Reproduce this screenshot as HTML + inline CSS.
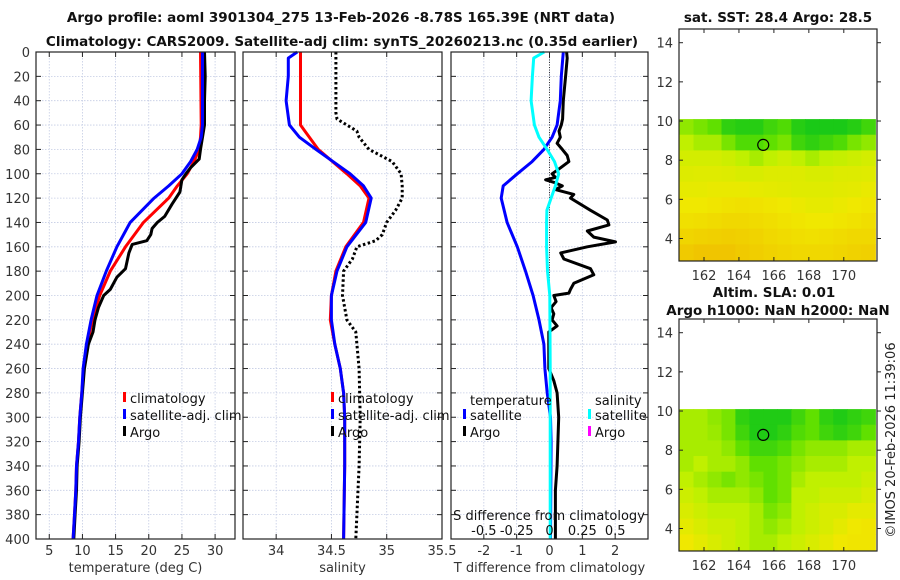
<!DOCTYPE html>
<html><head><meta charset="utf-8"><style>
html,body{margin:0;padding:0;background:#fff;}
svg{display:block;font-family:"DejaVu Sans","Liberation Sans",sans-serif;}
</style></head><body>
<svg id="chart" width="900" height="580" viewBox="0 0 900 580" xmlns="http://www.w3.org/2000/svg">
<g id="titles">
<text x="341" y="22" text-anchor="middle" font-size="13.5" font-weight="bold" fill="#111">Argo profile: aoml 3901304_275 13-Feb-2026 -8.78S 165.39E (NRT data)</text>
<text x="342" y="46" text-anchor="middle" font-size="13.5" font-weight="bold" fill="#111">Climatology: CARS2009. Satellite-adj clim: synTS_20260213.nc (0.35d earlier)</text>
<text x="778" y="22" text-anchor="middle" font-size="13.5" font-weight="bold" fill="#111">sat. SST: 28.4 Argo: 28.5</text>
<text x="774" y="297" text-anchor="middle" font-size="13.5" font-weight="bold" fill="#111">Altim. SLA: 0.01</text>
<text x="778" y="315" text-anchor="middle" font-size="13.5" font-weight="bold" fill="#111">Argo h1000: NaN h2000: NaN</text>
<text transform="translate(895,440) rotate(-90)" text-anchor="middle" font-size="13" fill="#222">©IMOS 20-Feb-2026 11:39:06</text>
</g>
</svg>
<script>
// ---------- data ----------
const depthTicks = [0,20,40,60,80,100,120,140,160,180,200,220,240,260,280,300,320,340,360,380,400];
const tempTicks = [5,10,15,20,25,30];
const salTicks = [34,34.5,35,35.5];
const salTickLabels = ['34','34.5','35','35.5'];
const tdiffTicks = [-2,-1,0,1,2];
const sdiffTickLabels = ['-0.5','-0.25','0','0.25','0.5'];
const sdiffTickValues = [-0.5,-0.25,0,0.25,0.5];

const tClimDepth = [0,60,70,80,90,100,110,120,140,160,180,200,220,240,260,280,300,320,340,360,380,400];
const tClim =      [27.8,27.9,27.8,27.6,26.8,25.8,24.3,23.0,19.2,16.5,14.2,12.6,11.5,10.7,10.2,9.9,9.6,9.4,9.1,9.0,8.8,8.6];
const tSatDepth = [0,60,70,80,90,100,110,120,140,160,180,200,220,240,260,280,300,320,340,360,380,400];
const tSat =      [28.1,28.1,27.9,27.3,26.3,25.0,23.0,20.8,17.2,15.2,13.6,12.2,11.3,10.6,10.1,9.9,9.6,9.4,9.1,9.0,8.8,8.6];
const tArgoDepth = [0,20,40,60,80,88,95,100,105,115,125,135,140,145,150,155,158,165,178,185,195,200,210,220,230,240,260,280,300,320,340,360,380,400];
const tArgo =      [28.4,28.5,28.4,28.4,27.8,27.6,26.3,25.6,25.0,24.7,23.5,22.4,21.3,20.5,20.3,19.7,17.5,17.0,16.5,15.2,14.2,13.2,12.4,11.9,11.6,10.9,10.3,10.0,9.7,9.5,9.2,9.1,8.9,8.7];

const sClimDepth = [0,60,65,80,100,110,120,140,160,180,200,220,240,260,280,300,340,400];
const sClim =      [34.22,34.22,34.26,34.38,34.64,34.76,34.84,34.79,34.63,34.54,34.5,34.49,34.53,34.58,34.61,34.62,34.62,34.61];
const sSatDepth = [0,5,20,40,60,70,80,100,110,120,140,160,180,200,220,240,260,280,300,340,400];
const sSat =      [34.19,34.11,34.11,34.09,34.12,34.21,34.36,34.67,34.79,34.86,34.81,34.64,34.55,34.5,34.5,34.53,34.58,34.61,34.62,34.62,34.61];
const sArgoDepth = [0,50,55,65,70,80,90,100,110,120,130,140,150,155,160,170,180,200,220,230,240,260,300,340,400];
const sArgo =      [34.54,34.54,34.55,34.73,34.75,34.84,35.05,35.13,35.14,35.14,35.08,35.0,34.96,34.9,34.73,34.69,34.61,34.6,34.64,34.72,34.73,34.75,34.76,34.75,34.72];

const dtSatDepth = [0,20,40,60,70,80,90,100,110,120,140,160,180,200,220,240,260,280,300,320,400];
const dtSat =      [0.42,0.36,0.33,0.23,0.08,-0.17,-0.53,-0.98,-1.41,-1.47,-1.29,-0.98,-0.73,-0.5,-0.32,-0.17,-0.14,-0.07,0.03,0.05,0.03];
const dsSatDepth = [0,5,20,40,60,70,80,90,100,110,120,130,140,160,180,200,260,300,400];
const dsSat =      [-0.04,-0.12,-0.13,-0.14,-0.115,-0.08,-0.018,0.038,0.07,0.045,0.012,-0.02,-0.022,-0.022,-0.015,0.002,0.005,0.005,0.005];
const dtArgoDepth = [0,5,20,40,55,60,65,70,75,80,85,90,95,100,103,105,107,110,113,117,120,130,138,142,147,152,156,160,165,170,178,183,190,195,198,200,205,210,215,220,225,230,240,260,270,280,300,340,360,380,400];
const dtArgo =      [0.52,0.54,0.49,0.42,0.40,0.36,0.29,0.33,0.23,0.39,0.54,0.59,0.34,0.08,0.18,-0.12,0.13,0.39,0.18,0.74,0.64,1.25,1.76,1.81,1.15,1.35,2.01,1.15,0.34,0.44,1.25,1.35,0.74,0.64,0.59,0.13,0.2,0.05,0.13,0.08,0.23,-0.02,-0.02,-0.02,0.13,0.23,0.28,0.23,0.18,0.18,0.18];

// map grids (rows north->south, lat 10.1..2.9; cols west->east lon 160.6..171.8), colour index 0 green .. 1 orange
const sstGrid = [
[0.4,0.35,0.3,0.15,0.12,0.12,0.2,0.25,0.12,0.08,0.08,0.08,0.12,0.2],
[0.5,0.45,0.45,0.35,0.25,0.25,0.3,0.35,0.2,0.15,0.2,0.25,0.35,0.4],
[0.58,0.58,0.58,0.55,0.5,0.45,0.5,0.55,0.5,0.45,0.5,0.52,0.55,0.58],
[0.62,0.63,0.63,0.62,0.6,0.6,0.62,0.62,0.62,0.6,0.6,0.62,0.62,0.63],
[0.66,0.66,0.67,0.67,0.67,0.66,0.65,0.64,0.63,0.63,0.63,0.64,0.65,0.67],
[0.7,0.7,0.72,0.74,0.75,0.74,0.72,0.7,0.68,0.66,0.66,0.68,0.7,0.72],
[0.75,0.76,0.78,0.8,0.8,0.78,0.76,0.74,0.72,0.7,0.7,0.72,0.74,0.76],
[0.82,0.84,0.85,0.86,0.85,0.83,0.8,0.78,0.76,0.75,0.76,0.78,0.8,0.8],
[0.88,0.9,0.9,0.9,0.88,0.86,0.84,0.82,0.8,0.8,0.8,0.82,0.84,0.85]];
const slaGrid = [
[0.45,0.45,0.4,0.35,0.15,0.1,0.1,0.1,0.2,0.3,0.15,0.1,0.15,0.2],
[0.45,0.45,0.42,0.35,0.2,0.1,0.1,0.15,0.25,0.3,0.2,0.15,0.2,0.3],
[0.45,0.45,0.45,0.4,0.3,0.2,0.2,0.25,0.35,0.4,0.4,0.4,0.45,0.45],
[0.45,0.5,0.45,0.45,0.4,0.3,0.3,0.35,0.4,0.45,0.45,0.45,0.5,0.5],
[0.5,0.45,0.4,0.35,0.4,0.35,0.3,0.35,0.45,0.5,0.5,0.5,0.5,0.55],
[0.55,0.5,0.45,0.45,0.45,0.4,0.3,0.35,0.5,0.5,0.55,0.55,0.55,0.6],
[0.6,0.55,0.5,0.5,0.5,0.45,0.35,0.4,0.5,0.55,0.6,0.6,0.65,0.65],
[0.65,0.6,0.55,0.55,0.5,0.45,0.4,0.45,0.5,0.55,0.6,0.65,0.7,0.72],
[0.7,0.65,0.6,0.55,0.5,0.45,0.45,0.5,0.55,0.6,0.65,0.7,0.72,0.72]];
const lonTicks = [162,164,166,168,170];
const latTicks = [4,6,8,10,12,14];
const argoLon = 165.39;
const argoLat = 8.78;

// ---------- drawing ----------
const NS='http://www.w3.org/2000/svg';
const svg=document.getElementById('chart');
function mk(tag,attrs,parent){const e=document.createElementNS(NS,tag);for(const k in attrs)e.setAttribute(k,attrs[k]);(parent||svg).appendChild(e);return e;}
const Y0=52,Y1=539;
function yD(d){return Y0+(d/400)*(Y1-Y0);}
function xScale(x0,x1,a,b){return v=>x0+(v-a)/(b-a)*(x1-x0);}

function panel(name,x0,x1,xs,ticks,labels,ylabels,xlabel){
  const g=mk('g',{});
  
  
  mk('rect',{x:x0,y:Y0,width:x1-x0,height:Y1-Y0,fill:'#fff'},g);
  depthTicks.forEach(d=>{if(d>0&&d<400){const l=mk('line',{x1:x0,x2:x1,y1:yD(d),y2:yD(d),stroke:'#c4cce4','stroke-width':0.8,'stroke-dasharray':'1.5,1.5'},g);}});
  ticks.forEach((t,i)=>{const x=xs(t);
    if(x>x0+1&&x<x1-1){const l=mk('line',{x1:x,x2:x,y1:Y0,y2:Y1,stroke:'#c4cce4','stroke-width':0.8,'stroke-dasharray':'1.5,1.5'},g);}
    mk('line',{x1:x,x2:x,y1:Y0,y2:Y0+5,stroke:'#222'},g);mk('line',{x1:x,x2:x,y1:Y1,y2:Y1-5,stroke:'#222'},g);
    const tx=mk('text',{x:x,y:555,'text-anchor':'middle','font-size':13,fill:'#333'},g);tx.textContent=labels[i];
    });
  depthTicks.forEach(d=>{const y=yD(d);
    mk('line',{x1:x0,x2:x0+5,y1:y,y2:y,stroke:'#222'},g);mk('line',{x1:x1,x2:x1-5,y1:y,y2:y,stroke:'#222'},g);
    if(ylabels){const tx=mk('text',{x:30,y:y+5,'text-anchor':'end','font-size':13,fill:'#333'},g);tx.textContent=d;
      }});
  const xl=mk('text',{x:(x0+x1)/2,y:572,'text-anchor':'middle','font-size':13,fill:'#333'},g);xl.textContent=xlabel;
  
  return g;
}
function series(g,name,xs,vals,depths,color,dash,scale){
  const pts=vals.map((v,i)=>xs(v*(scale||1)).toFixed(1)+','+yD(depths[i]).toFixed(1)).join(' ');
  const p=mk('polyline',{points:pts,fill:'none',stroke:color,'stroke-width':3,'stroke-linejoin':'round'},g);
  if(dash)p.setAttribute('stroke-dasharray',dash);
  
  
}
function border(g,x0,x1){mk('rect',{x:x0,y:Y0,width:x1-x0,height:Y1-Y0,fill:'none',stroke:'#222','stroke-width':1.2},g);}
function legendRow(g,x,y,color,label,name){
  mk('rect',{x:x,y:y-9,width:3,height:10,fill:color},g);
  const t=mk('text',{x:x+7,y:y+2,'font-size':13,fill:'#111'},g);t.textContent=label;
  
}

// Panel 1: temperature
const xT=xScale(36,235,3,33);
const g1=panel('temperature-panel',36,235,xT,tempTicks,tempTicks.map(String),true,'temperature (deg C)');
series(g1,'temp-climatology-line',xT,tClim,tClimDepth,'#ff0000');
series(g1,'temp-argo-line',xT,tArgo,tArgoDepth,'#000');
series(g1,'temp-satellite-line',xT,tSat,tSatDepth,'#0000ff');
border(g1,36,235);
legendRow(g1,123,401,'#ff0000','climatology','legend-climatology');
legendRow(g1,123,418,'#0000ff','satellite-adj. clim','legend-satellite-adj');
legendRow(g1,123,435,'#000','Argo','legend-argo');

// Panel 2: salinity
const xS=xScale(243,442,33.7,35.5);
const g2=panel('salinity-panel',243,442,xS,salTicks,salTickLabels,false,'salinity');
series(g2,'sal-climatology-line',xS,sClim,sClimDepth,'#ff0000');
series(g2,'sal-satellite-line',xS,sSat,sSatDepth,'#0000ff');
series(g2,'sal-argo-line',xS,sArgo,sArgoDepth,'#000','2.5,2.5');
border(g2,243,442);
legendRow(g2,331,401,'#ff0000','climatology','legend-climatology');
legendRow(g2,331,418,'#0000ff','satellite-adj. clim','legend-satellite-adj');
legendRow(g2,331,435,'#000','Argo','legend-argo');

// Panel 3: differences
const xD=xScale(451,648,-3,3);
const g3=panel('difference-panel',451,648,xD,tdiffTicks,tdiffTicks.map(String),false,'T difference from climatology');
mk('line',{x1:xD(0),x2:xD(0),y1:Y0,y2:Y1,stroke:'#333','stroke-width':1,'stroke-dasharray':'1,1.5'},g3);
series(g3,'tdiff-argo-line',xD,dtArgo,dtArgoDepth,'#000');
series(g3,'tdiff-satellite-line',xD,dtSat,dtSatDepth,'#0000ff');
series(g3,'sdiff-satellite-line',xD,dsSat,dsSatDepth,'#00ffff',null,4);
border(g3,451,648);
{const t=mk('text',{x:470,y:405,'font-size':13,fill:'#111'},g3);t.textContent='temperature';}
{const t=mk('text',{x:595,y:405,'font-size':13,fill:'#111'},g3);t.textContent='salinity';}
legendRow(g3,463,418,'#0000ff','satellite','legend-t-satellite');
legendRow(g3,463,435,'#000','Argo','legend-t-argo');
legendRow(g3,588,418,'#00ffff','satellite','legend-s-satellite');
legendRow(g3,588,435,'#ff00ff','Argo','legend-s-argo');
{const t=mk('text',{x:549,y:520,'text-anchor':'middle','font-size':13,fill:'#111'},g3);t.textContent='S difference from climatology';}
sdiffTickValues.forEach((v,i)=>{const t=mk('text',{x:xD(v*4),y:535,'text-anchor':'middle','font-size':13,fill:'#111'},g3);t.textContent=sdiffTickLabels[i];
  });

// maps
const stops=[[0,[0,192,32]],[0.3,[96,224,0]],[0.5,[192,240,0]],[0.7,[240,232,0]],[0.85,[240,208,0]],[1,[240,176,0]]];
function cmap(v){for(let i=1;i<stops.length;i++){if(v<=stops[i][0]){const a=stops[i-1],b=stops[i];const f=(v-a[0])/(b[0]-a[0]);const c=a[1].map((q,k)=>Math.round(q+(b[1][k]-q)*f));return 'rgb('+c.join(',')+')';}}return 'rgb(240,176,0)';}
function map(name,y0,y1,grid){
  const g=mk('g',{});
  
  
  const x0=679,x1=877;
  const lx=xScale(x0,x1,160.57,171.9), ly=v=>y1-(v-2.85)/(14.7-2.85)*(y1-y0);
  grid.forEach((row,r)=>row.forEach((v,c)=>{
    const la=10.1-r*0.8, lo=160.6+c*0.8;
    const cell=mk('rect',{x:lx(lo).toFixed(1),y:ly(la).toFixed(1),width:(lx(lo+0.8)-lx(lo)+0.6).toFixed(1),height:(ly(la-0.8)-ly(la)+0.6).toFixed(1),fill:cmap(v)},g);
    
    
  }));
  const circ=mk('circle',{cx:lx(argoLon),cy:ly(argoLat),r:5.5,fill:'none',stroke:'#000','stroke-width':1.2},g);
  
  
  mk('rect',{x:x0,y:y0,width:x1-x0,height:y1-y0,fill:'none',stroke:'#222','stroke-width':1.2},g);
  lonTicks.forEach(v=>{const x=lx(v);mk('line',{x1:x,x2:x,y1:y1,y2:y1-4,stroke:'#222'},g);mk('line',{x1:x,x2:x,y1:y0,y2:y0+4,stroke:'#222'},g);
    const t=mk('text',{x:x,y:y1+19,'text-anchor':'middle','font-size':13,fill:'#333'},g);t.textContent=v;});
  latTicks.forEach(v=>{const y=ly(v);mk('line',{x1:x0,x2:x0+4,y1:y,y2:y,stroke:'#222'},g);mk('line',{x1:x1,x2:x1+4,y1:y,y2:y,stroke:'#222'},g);
    const t=mk('text',{x:x0-6,y:y+5,'text-anchor':'end','font-size':13,fill:'#333'},g);t.textContent=v;});
}
map('sst-map',29,261,sstGrid);
map('sla-map',319,551,slaGrid);
</script>
</body></html>
